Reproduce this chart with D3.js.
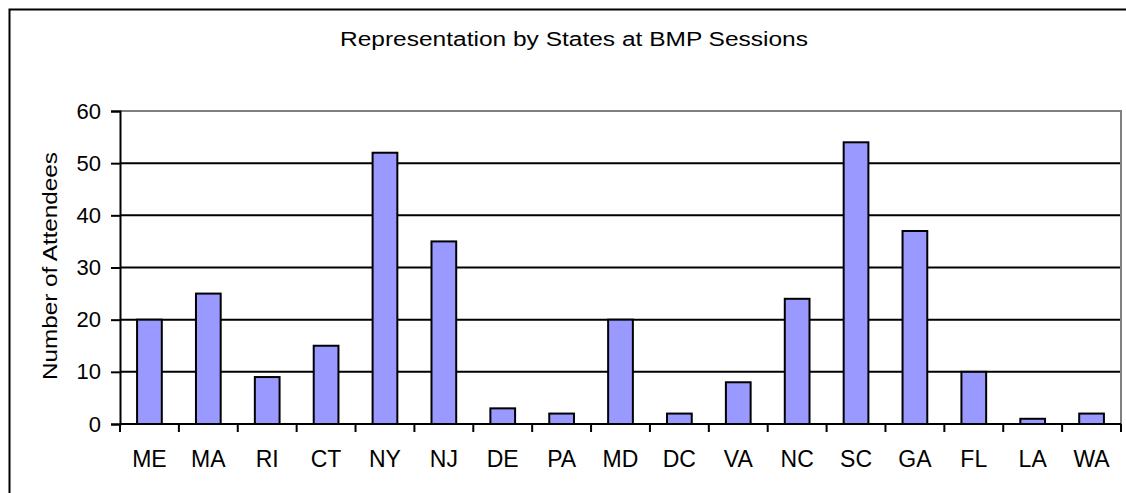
<!DOCTYPE html>
<html>
<head>
<meta charset="utf-8">
<script src="https://cdn.jsdelivr.net/npm/d3@7"></script>
<style>
  body { margin: 0; background: #fff; }
  text { font-family: "Liberation Sans", Arial, sans-serif; fill: #000; }
</style>
</head>
<body>
<svg id="chart" width="1126" height="493"></svg>
<script>
// Data
const states = ["ME", "MA", "RI", "CT", "NY", "NJ", "DE", "PA", "MD", "DC", "VA", "NC", "SC", "GA", "FL", "LA", "WA"];
const attendees = [20, 25, 9, 15, 52, 35, 3, 2, 20, 2, 8, 24, 54, 37, 10, 1, 2];
const yTicks = [0, 10, 20, 30, 40, 50, 60];

const svg = d3.select("#chart");

// Outer chart border
svg.append("rect")
    .attr("x", 9.5)
    .attr("y", 9.5)
    .attr("width", 1130)
    .attr("height", 500)
    .attr("fill", "#fff")
    .attr("stroke", "#000")
    .attr("stroke-width", 2);

const margin = { top: 111, right: 5, bottom: 69, left: 120 };
const width = 1126 - margin.left - margin.right;
const height = 493 - margin.top - margin.bottom;

const g = svg.append("g")
    .attr("transform", `translate(${margin.left},${margin.top})`);

// Scales
const x = d3.scaleBand()
    .domain(states)
    .range([0, width])
    .paddingInner(0.58)
    .paddingOuter(0.29);

const y = d3.scaleLinear()
    .domain([0, 60])
    .range([height, 0]);

// Gridlines
g.selectAll(".grid")
    .data(yTicks.filter(d => d > 0 && d < 60))
    .enter()
    .append("line")
    .attr("x1", 0)
    .attr("x2", width)
    .attr("y1", d => y(d))
    .attr("y2", d => y(d))
    .attr("stroke", "#000")
    .attr("stroke-width", 2);

// Plot area border (top and right, grey)
g.append("path")
    .attr("d", `M0,${y(60)}H${width}V${height}`)
    .attr("fill", "none")
    .attr("stroke", "#808080")
    .attr("stroke-width", 2);

// Bars
g.selectAll(".bar")
    .data(states)
    .enter()
    .append("rect")
    .attr("class", "bar")
    .attr("x", (d, i) => x(d))
    .attr("y", (d, i) => y(attendees[i]))
    .attr("width", x.bandwidth())
    .attr("height", (d, i) => height - y(attendees[i]))
    .attr("fill", "#9999FF")
    .attr("stroke", "#000")
    .attr("stroke-width", 2);

// X axis: ticks on the category boundaries
const step = x.step();
const xAxis = g.append("g")
    .attr("transform", `translate(0,${height})`);
xAxis.append("line")
    .attr("x1", 0).attr("x2", width)
    .attr("stroke", "#000").attr("stroke-width", 2);
xAxis.selectAll(".xtick")
    .data(d3.range(states.length + 1))
    .enter()
    .append("line")
    .attr("x1", i => i * step)
    .attr("x2", i => i * step)
    .attr("y1", 0)
    .attr("y2", 8)
    .attr("stroke", "#000")
    .attr("stroke-width", 2);
xAxis.selectAll(".xlabel")
    .data(states)
    .enter()
    .append("text")
    .attr("x", d => x(d) + x.bandwidth() / 2)
    .attr("y", 43)
    .attr("text-anchor", "middle")
    .style("font-size", "23px")
    .text(d => d);

// Y axis
const yAxis = g.append("g")
    .call(d3.axisLeft(y).tickValues(yTicks).tickSize(9).tickPadding(10));
yAxis.select(".domain").attr("stroke", "#000").attr("stroke-width", 2);
yAxis.selectAll(".tick line").attr("stroke", "#000").attr("stroke-width", 2);
yAxis.selectAll(".tick text")
    .style("font-size", "22px")
    .style("font-family", "Liberation Sans, Arial, sans-serif")
    .attr("fill", "#000");

// Title
svg.append("text")
    .attr("x", 574)
    .attr("y", 46)
    .attr("text-anchor", "middle")
    .attr("textLength", 468)
    .attr("lengthAdjust", "spacingAndGlyphs")
    .style("font-size", "20px")
    .text("Representation by States at BMP Sessions");

// Y axis label
svg.append("text")
    .attr("transform", "rotate(-90)")
    .attr("x", -266)
    .attr("y", 57)
    .attr("text-anchor", "middle")
    .attr("textLength", 228)
    .attr("lengthAdjust", "spacingAndGlyphs")
    .style("font-size", "21px")
    .text("Number of Attendees");
</script>
</body>
</html>
